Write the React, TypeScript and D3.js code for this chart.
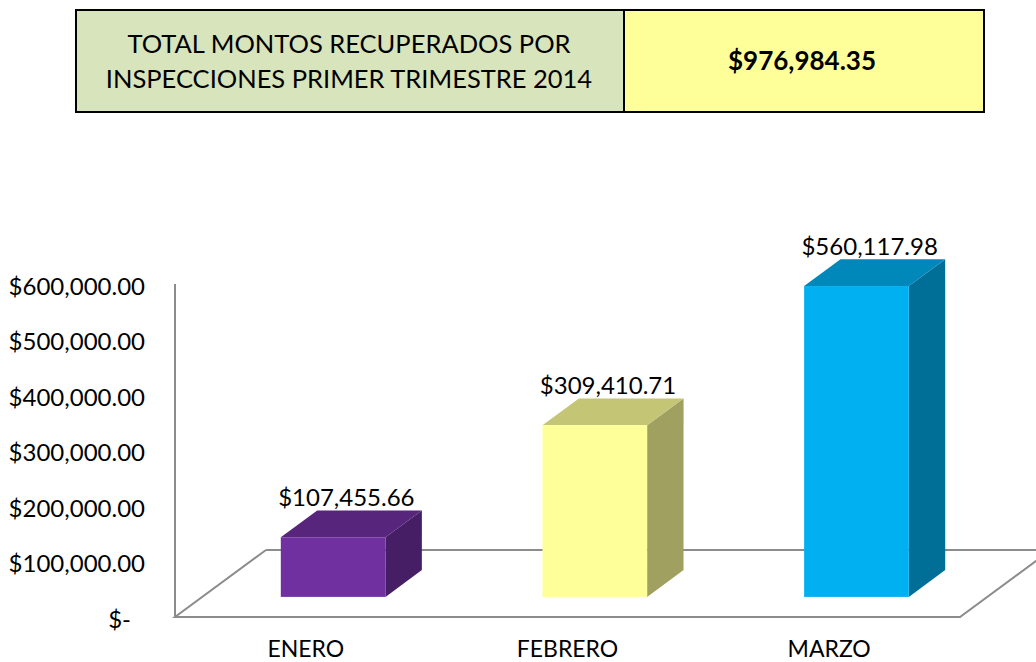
import * as d3 from "d3";
import { useEffect, useRef } from "react";

const months = ["ENERO", "FEBRERO", "MARZO"];
const amounts = [107455.66, 309410.71, 560117.98];
const barColors = ["#7030a0", "#ffff99", "#00b0f0"];
const yTicks = [0, 100000, 200000, 300000, 400000, 500000, 600000];
const titleLines = ["TOTAL MONTOS RECUPERADOS POR", "INSPECCIONES PRIMER TRIMESTRE 2014"];
const totalLabel = "$976,984.35";

const FONT = "Lato, 'Open Sans', sans-serif";

function drawChart(svgEl: SVGSVGElement) {
    const width = 1036;
    const height = 662;
    const svg = d3.select(svgEl);
    svg.selectAll("*").remove();
    svg.attr("width", width).attr("height", height);

    // title table
    const table = svg.append("g");
    table.append("rect")
        .attr("x", 76).attr("y", 10).attr("width", 548).attr("height", 102)
        .attr("fill", "#d8e4bc");
    table.append("rect")
        .attr("x", 624).attr("y", 10).attr("width", 360).attr("height", 102)
        .attr("fill", "#ffff99");
    table.append("rect")
        .attr("x", 76).attr("y", 10).attr("width", 908).attr("height", 102)
        .attr("fill", "none").attr("stroke", "#000").attr("stroke-width", 2);
    table.append("line")
        .attr("x1", 624).attr("x2", 624).attr("y1", 10).attr("y2", 112)
        .attr("stroke", "#000").attr("stroke-width", 2);
    table.selectAll("text.t")
        .data(titleLines)
        .enter()
        .append("text")
        .attr("x", 349)
        .attr("y", (d, i) => 53 + i * 35)
        .attr("text-anchor", "middle")
        .style("font-family", FONT)
        .style("font-size", "25.5px")
        .attr("fill", "#000")
        .text(d => d);
    table.append("text")
        .attr("x", 802).attr("y", 70)
        .attr("text-anchor", "middle")
        .style("font-family", FONT)
        .style("font-size", "26px")
        .style("font-weight", "bold")
        .text(totalLabel);

    // scales
    const left = 175;
    const right = 960;
    const x = d3.scaleBand<string>().domain(months).range([left, right]).padding(0);
    const y = d3.scaleLinear().domain([0, 600000]).range([617, 284]);

    // floor depth vector
    const depthX = 91;
    const depthY = -67;
    const zFront = 0.3;
    const zBack = 0.7;
    const floorY = y(0);

    const axisColor = "#8c8c8c";
    const floor = svg.append("g");
    floor.append("line")
        .attr("x1", left + depthX).attr("y1", floorY + depthY)
        .attr("x2", right + depthX + 40).attr("y2", floorY + depthY)
        .attr("stroke", axisColor).attr("stroke-width", 2);
    floor.append("path")
        .attr("d", d3.line()([
            [left + depthX, floorY + depthY],
            [left, floorY],
            [right, floorY],
            [right + depthX, floorY + depthY],
        ]))
        .attr("fill", "none").attr("stroke", axisColor).attr("stroke-width", 2);
    floor.append("line")
        .attr("x1", left).attr("x2", left).attr("y1", y(600000)).attr("y2", floorY)
        .attr("stroke", axisColor).attr("stroke-width", 2);

    // y tick labels
    const fmt = d3.format("$,.2f");
    svg.append("g").selectAll("text")
        .data(yTicks)
        .enter()
        .append("text")
        .attr("x", d => (d === 0 ? 131 : 145))
        .attr("y", d => y(d) + 10.5)
        .attr("text-anchor", "end")
        .style("font-family", FONT)
        .style("font-size", "24px")
        .attr("fill", "#000")
        .text(d => (d === 0 ? "$-" : fmt(d)));

    // category labels
    svg.append("g").selectAll("text")
        .data(months)
        .enter()
        .append("text")
        .attr("x", d => x(d)! + x.bandwidth() / 2)
        .attr("y", 657)
        .attr("text-anchor", "middle")
        .style("font-family", FONT)
        .style("font-size", "23px")
        .attr("fill", "#000")
        .text(d => d);

    // 3d bars
    const barW = x.bandwidth() * 0.4;
    const bars = months.map((m, i) => {
        const cx = x(m)! + x.bandwidth() / 2;
        const x0 = cx - barW / 2 + depthX * zFront;
        const x1 = x0 + barW;
        const yb = floorY + depthY * zFront;
        const yt = yb - (floorY - y(amounts[i]));
        const dx = depthX * (zBack - zFront);
        const dy = depthY * (zBack - zFront);
        return { m, value: amounts[i], color: barColors[i], x0, x1, yb, yt, dx, dy };
    });

    const line = d3.line();
    const barG = svg.append("g").selectAll("g")
        .data(bars)
        .enter()
        .append("g");
    barG.append("path")
        .attr("d", b => line([[b.x1, b.yb], [b.x1 + b.dx, b.yb + b.dy], [b.x1 + b.dx, b.yt + b.dy], [b.x1, b.yt]])! + "Z")
        .attr("fill", b => d3.rgb(b.color).darker(1.3).formatHex());
    barG.append("path")
        .attr("d", b => line([[b.x0, b.yt], [b.x0 + b.dx, b.yt + b.dy], [b.x1 + b.dx, b.yt + b.dy], [b.x1, b.yt]])! + "Z")
        .attr("fill", b => d3.rgb(b.color).darker(0.72).formatHex());
    barG.append("rect")
        .attr("x", b => b.x0).attr("y", b => b.yt)
        .attr("width", barW).attr("height", b => b.yb - b.yt)
        .attr("fill", b => b.color);

    // data labels
    svg.append("g").selectAll("text")
        .data(bars)
        .enter()
        .append("text")
        .attr("x", b => (b.x0 + b.x1 + b.dx) / 2 - 5)
        .attr("y", b => b.yt + b.dy - 4)
        .attr("text-anchor", "middle")
        .style("font-family", FONT)
        .style("font-size", "24px")
        .attr("fill", "#000")
        .text(b => fmt(b.value));
}

export default function App() {
    const svgRef = useRef<SVGSVGElement>(null);
    useEffect(() => {
        if (svgRef.current) drawChart(svgRef.current);
    }, []);
    return (
        <svg ref={svgRef} style={{ position: "absolute", left: 0, top: 0, background: "#fff" }} />
    );
}
